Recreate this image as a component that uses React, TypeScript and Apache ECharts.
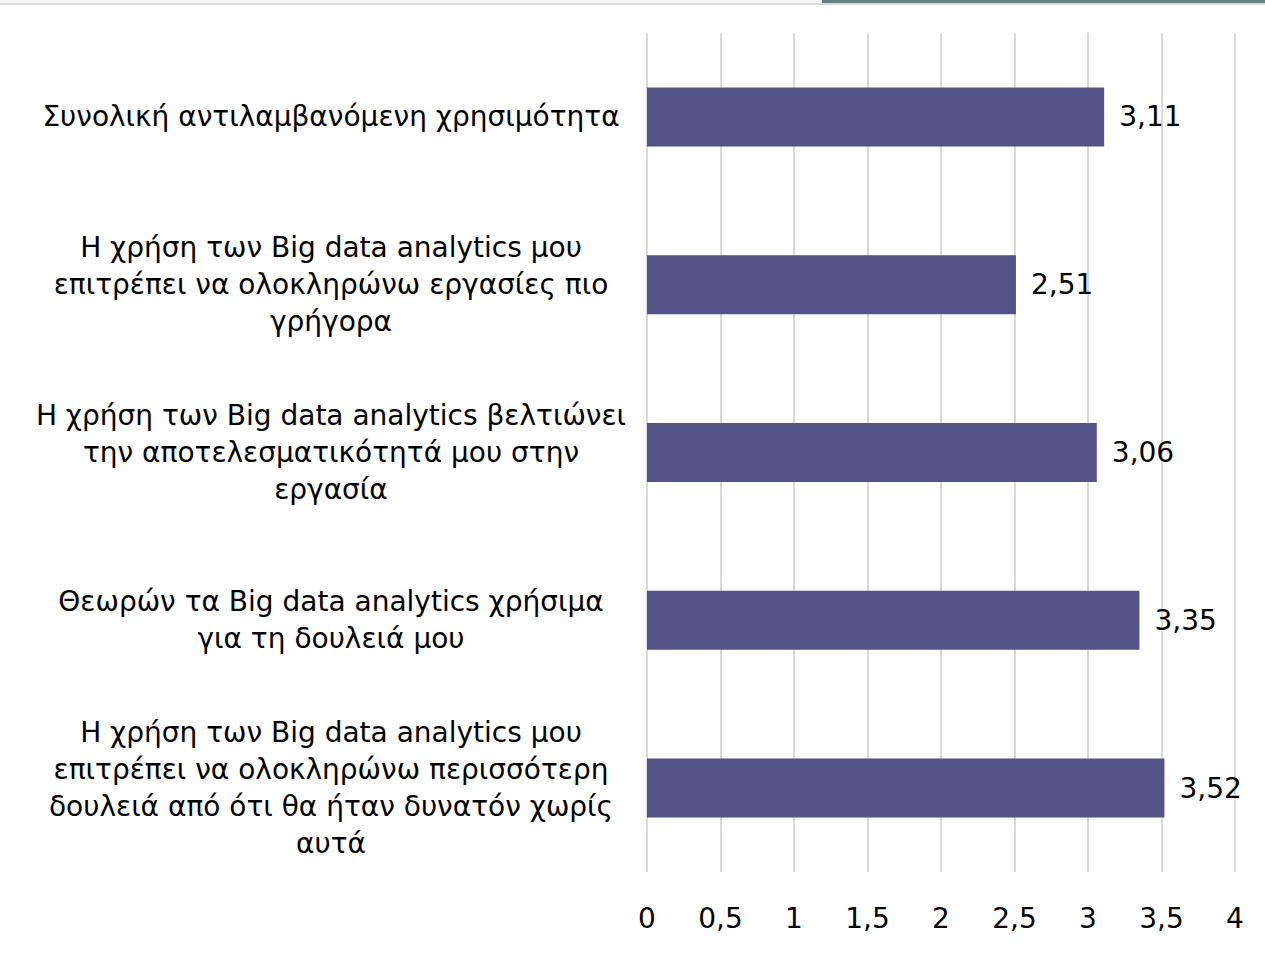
import React, { useEffect, useRef } from "react";
import * as echarts from "echarts";

const categories = [
  "Συνολική αντιλαμβανόμενη χρησιμότητα",
  "Η χρήση των Big data analytics μου\nεπιτρέπει να ολοκληρώνω εργασίες πιο\nγρήγορα",
  "Η χρήση των Big data analytics βελτιώνει\nτην αποτελεσματικότητά μου στην\nεργασία",
  "Θεωρών τα Big data analytics χρήσιμα\nγια τη δουλειά μου",
  "Η χρήση των Big data analytics μου\nεπιτρέπει να ολοκληρώνω περισσότερη\nδουλειά από ότι θα ήταν δυνατόν χωρίς\nαυτά",
];
const values = [3.11, 2.51, 3.06, 3.35, 3.52];

const FONT = "DejaVu Sans";
const fmt = (v: number) => String(v).replace(".", ",");

export default function App() {
  const ref = useRef<HTMLDivElement>(null);
  useEffect(() => {
    const chart = echarts.init(ref.current!, null, { renderer: "svg" });
    chart.setOption({
      animation: false,
      backgroundColor: "#ffffff",
      textStyle: { fontFamily: FONT },
      grid: { left: 647, right: 30, top: 33, bottom: 84 },
      graphic: [
        { type: "rect", shape: { x: 0, y: 0, width: 1265, height: 3 }, style: { fill: "#f4f4f4" } },
        { type: "rect", shape: { x: 0, y: 3, width: 1265, height: 2 }, style: { fill: "#dcdcdc" } },
        { type: "rect", shape: { x: 822, y: 0, width: 443, height: 3 }, style: { fill: "#5f7f86" } },
      ],
      xAxis: {
        type: "value",
        min: 0,
        max: 4,
        interval: 0.5,
        axisLine: { show: false },
        axisTick: { show: false },
        splitLine: { show: true, lineStyle: { color: "#d9d9d9", width: 2 } },
        axisLabel: {
          formatter: (v: number) => fmt(v),
          fontFamily: FONT,
          fontSize: 28,
          color: "#000000",
          margin: 32,
        },
      },
      yAxis: {
        type: "category",
        inverse: true,
        data: categories,
        axisLine: { show: false },
        axisTick: { show: false },
        axisLabel: {
          fontFamily: FONT,
          fontSize: 28,
          lineHeight: 37,
          color: "#000000",
          align: "center",
          margin: 316,
        },
      },
      series: [
        {
          type: "bar",
          data: values,
          barWidth: 59,
          itemStyle: { color: "#545388" },
          label: {
            show: true,
            position: "right",
            distance: 15,
            formatter: (p: any) => fmt(p.value),
            fontFamily: FONT,
            fontSize: 28,
            color: "#000000",
          },
        },
      ],
    });
    return () => chart.dispose();
  }, []);
  return <div ref={ref} style={{ width: 1265, height: 956, position: "absolute", left: 0, top: 0 }} />;
}
